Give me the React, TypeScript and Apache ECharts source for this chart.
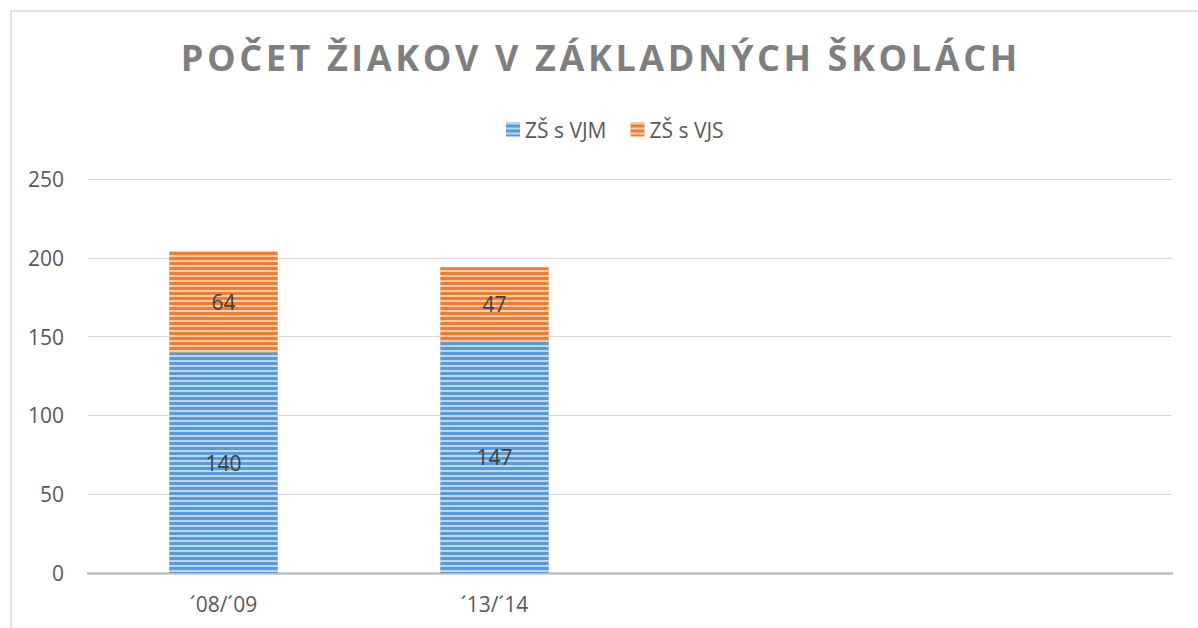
import React, { useEffect, useRef } from "react";
import * as echarts from "echarts";

const categories = ["´08/´09", "´13/´14", "", ""];
const vjm = [140, 147, null, null];
const vjs = [64, 47, null, null];
const yTicks = [0, 50, 100, 150, 200, 250];
const titleText = "POČET ŽIAKOV V ZÁKLADNÝCH ŠKOLÁCH";
const seriesNames = ["ZŠ s VJM", "ZŠ s VJS"];

const FONT = "'Open Sans', 'Noto Sans', sans-serif";

const makeStripe = () => ({
  symbol: "rect",
  symbolSize: 1,
  rotation: 0,
  dashArrayX: [1, 0],
  dashArrayY: [2, 3],
  color: "rgba(255,255,255,0.6)",
});

export default function App() {
  const ref = useRef<HTMLDivElement>(null);
  useEffect(() => {
    const chart = echarts.init(ref.current!, null, { renderer: "svg" });
    chart.setOption({
      animation: false,
      aria: { enabled: true, decal: { show: true } },
      backgroundColor: "#ffffff",
      title: {
        text: titleText.split("").join("\u200A"),
        left: "center",
        top: 34,
        textStyle: {
          fontFamily: FONT,
          fontWeight: "bold",
          fontSize: 36,
          color: "#7F7F7F",
        },
      },
      legend: {
        top: 114,
        left: 501,
        itemWidth: 14,
        itemHeight: 14,
        itemGap: 24,
        icon: "rect",
        textStyle: { fontFamily: FONT, fontSize: 21, color: "#595959" },
        data: seriesNames,
      },
      graphic: [
        {
          type: "rect",
          shape: { x: 11, y: 11, width: 1300, height: 700 },
          style: { fill: "none", stroke: "#D9D9D9", lineWidth: 1.5 },
          silent: true,
        },
      ],
      grid: { left: 88, right: 26, top: 179, bottom: 55, containLabel: false },
      xAxis: {
        type: "category",
        data: categories,
        axisLine: { lineStyle: { color: "#BFBFBF", width: 2.5 } },
        axisTick: { show: false },
        axisLabel: {
          fontFamily: FONT,
          fontSize: 21,
          color: "#595959",
          margin: 20,
        },
      },
      yAxis: {
        type: "value",
        min: yTicks[0],
        max: yTicks[yTicks.length - 1],
        interval: 50,
        axisLine: { show: false },
        axisTick: { show: false },
        splitLine: { lineStyle: { color: "#D9D9D9", width: 1 } },
        axisLabel: {
          fontFamily: FONT,
          fontSize: 21,
          color: "#595959",
          margin: 24,
        },
      },
      series: [
        {
          name: seriesNames[0],
          type: "bar",
          stack: "total",
          data: vjm,
          barWidth: "40%",
          itemStyle: { color: "#5B9BD5", decal: makeStripe() },
          label: {
            show: true,
            position: "inside",
            fontFamily: FONT,
            fontSize: 21,
            color: "#404040",
          },
        },
        {
          name: seriesNames[1],
          type: "bar",
          stack: "total",
          data: vjs,
          barWidth: "40%",
          itemStyle: { color: "#ED7D31", decal: makeStripe() },
          label: {
            show: true,
            position: "inside",
            fontFamily: FONT,
            fontSize: 21,
            color: "#404040",
          },
        },
      ],
    });
    return () => chart.dispose();
  }, []);
  return (
    <div
      ref={ref}
      style={{ position: "fixed", left: 0, top: 0, width: 1198, height: 628 }}
    />
  );
}
